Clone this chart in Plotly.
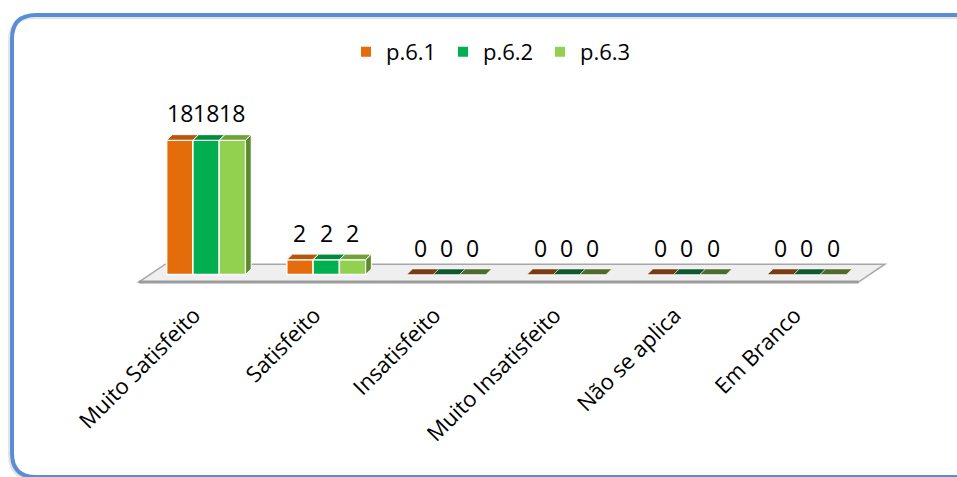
import plotly.graph_objects as go

# Survey answers for questions p.6.1 – p.6.3
categories = ["Muito Satisfeito", "Satisfeito", "Insatisfeito",
              "Muito Insatisfeito", "Não se aplica", "Em Branco"]
series_names = ["p.6.1", "p.6.2", "p.6.3"]
p61 = [18, 2, 0, 0, 0, 0]
p62 = [18, 2, 0, 0, 0, 0]
p63 = [18, 2, 0, 0, 0, 0]
series_values = [p61, p62, p63]

# Styling
FRONT = ["#E46C0A", "#00B050", "#92D050"]
TOP = ["#B8560C", "#008C3C", "#70A23A"]
TOP_FLAT = ["#7B3B12", "#0E5A2E", "#4E6B2A"]
SIDE = "#5E8A2E"
FONT = "Open Sans"

W = 0.219          # bar width (category units)
DX, DY = 0.047, 0.75   # depth of the 3-D extrusion (x units, value units)

# Layout geometry (pixels)
WIDTH, HEIGHT = 957, 477
ML, MR, MT, MB = 122, 30, 88, 180
XR = [-0.7, 6.0]
YR = [-3, 25]

idx = list(range(len(categories)))
n = len(categories)

fig = go.Figure()

# Front faces of the bars
for k, (name, vals) in enumerate(zip(series_names, series_values)):
    fig.add_trace(go.Bar(
        x=idx, y=vals, name=name, width=W, offset=-1.5 * W + k * W,
        marker=dict(color=FRONT[k], line=dict(color="white", width=1.5)),
        hoverinfo="skip",
    ))

# Top faces (and flat tops for empty answers)
for k, vals in enumerate(series_values):
    for i, v in zip(idx, vals):
        x0 = i - 1.5 * W + k * W
        x1 = x0 + W
        fig.add_trace(go.Scatter(
            x=[x0, x1, x1 + DX, x0 + DX, x0],
            y=[v, v, v + DY, v + DY, v],
            mode="lines", fill="toself",
            fillcolor=TOP[k] if v > 0 else TOP_FLAT[k],
            line=dict(color="white", width=1 if v > 0 else 0.5),
            showlegend=False, hoverinfo="skip",
        ))

# Right-hand side faces of the last bar in each group
for i, v in zip(idx, series_values[-1]):
    if v <= 0:
        continue
    x1 = i + 1.5 * W
    fig.add_trace(go.Scatter(
        x=[x1, x1, x1 + DX, x1 + DX, x1],
        y=[0, v, v + DY, DY, 0],
        mode="lines", fill="toself", fillcolor=SIDE,
        line=dict(color="white", width=1),
        showlegend=False, hoverinfo="skip",
    ))

# Value labels above each bar
for k, vals in enumerate(series_values):
    for i, v in zip(idx, vals):
        fig.add_annotation(
            x=i - W + k * W, y=v, text=str(v), showarrow=False,
            yshift=27, font=dict(family=FONT, size=23, color="black"),
        )

# Floor of the 3-D plot
FL_BACK, FL_FRONT = 1.4, -1.0
fl_x_front = [-0.56, n - 0.57]
fl_skew = 0.22
floor_path = (f"M {fl_x_front[0]},{FL_FRONT} L {fl_x_front[1]},{FL_FRONT} "
              f"L {fl_x_front[1] + fl_skew},{FL_BACK} L {fl_x_front[0] + fl_skew},{FL_BACK} Z")
fig.add_shape(type="path", path=floor_path, xref="x", yref="y", layer="below",
              fillcolor="#EFEFEF", line=dict(color="#A8A8A8", width=1.5))
fig.add_shape(type="line", xref="x", yref="y", layer="below",
              x0=fl_x_front[0], x1=fl_x_front[1], y0=FL_FRONT, y1=FL_FRONT,
              line=dict(color="#9C9C9C", width=3))

# Rounded frame around the chart (pixel geometry converted to paper units)
pw = WIDTH - ML - MR
ph = HEIGHT - MT - MB


def px(xp):
    return (xp - ML) / pw


def py(yp):
    return (HEIGHT - MB - yp) / ph


def rounded(x0, y0, x1, y1, r):
    return (f"M {px(x0 + r)},{py(y0)} L {px(x1 - r)},{py(y0)} "
            f"Q {px(x1)},{py(y0)} {px(x1)},{py(y0 + r)} "
            f"L {px(x1)},{py(y1 - r)} Q {px(x1)},{py(y1)} {px(x1 - r)},{py(y1)} "
            f"L {px(x0 + r)},{py(y1)} Q {px(x0)},{py(y1)} {px(x0)},{py(y1 - r)} "
            f"L {px(x0)},{py(y0 + r)} Q {px(x0)},{py(y0)} {px(x0 + r)},{py(y0)} Z")


fig.add_shape(type="path", xref="paper", yref="paper", layer="below",
              path=rounded(10, 17, 978, 479, 24),
              line=dict(color="rgba(0,0,0,0.10)", width=4))
fig.add_shape(type="path", xref="paper", yref="paper", layer="below",
              path=rounded(12, 15, 980, 477, 24),
              line=dict(color="#5B8DD7", width=4))

fig.update_layout(
    width=WIDTH, height=HEIGHT,
    margin=dict(l=ML, r=MR, t=MT, b=MB, pad=0),
    paper_bgcolor="white", plot_bgcolor="white",
    barmode="overlay",
    showlegend=True,
    legend=dict(orientation="h", x=346 / WIDTH, xref="container", xanchor="left",
                y=1 - 52 / HEIGHT, yref="container", yanchor="middle",
                entrywidth=52, entrywidthmode="pixels",
                font=dict(family=FONT, size=22, color="black"),
                itemsizing="constant", traceorder="normal"),
    xaxis=dict(range=XR, tickvals=idx, ticktext=categories, tickangle=-45,
               ticklabelshift=-12, ticklabelstandoff=0,
               showgrid=False, zeroline=False, showline=False, ticks="",
               tickfont=dict(family=FONT, size=22, color="black"), fixedrange=True),
    yaxis=dict(range=YR, showgrid=False, zeroline=False, showline=False,
               showticklabels=False, ticks="", fixedrange=True),
)

fig.write_html("out.html")
